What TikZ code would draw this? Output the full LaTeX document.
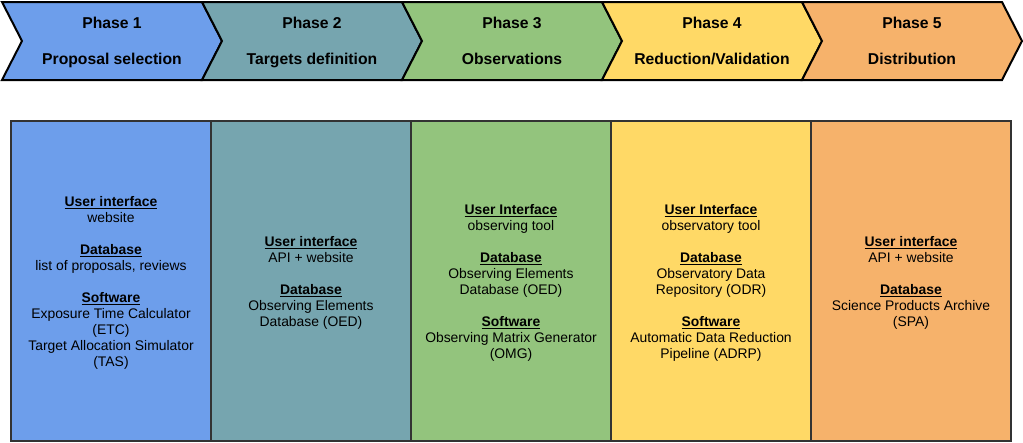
\documentclass[tikz,border=0pt]{standalone}
\usepackage{fontspec}
\setmainfont{Liberation Sans}
\definecolor{cA}{HTML}{6D9EEB}
\definecolor{cB}{HTML}{76A5AF}
\definecolor{cC}{HTML}{93C47D}
\definecolor{cD}{HTML}{FFD966}
\definecolor{cE}{HTML}{F6B26B}
\definecolor{boxline}{HTML}{333333}
\newcommand\hd[1]{\underline{\textbf{#1}}}
\tikzset{
  chev/.style={draw=black, line width=2pt, line join=miter},
  colbox/.style={draw=boxline, line width=2pt},
  ttl/.style={font=\fontsize{15.7}{18}\selectfont\bfseries, anchor=base, inner sep=0pt},
  body/.style={font=\fontsize{13.9}{16}\selectfont, align=center, inner sep=0pt},
}
\begin{document}
\begin{tikzpicture}[x=1pt,y=-1pt]
\useasboundingbox (0,0) rectangle (1023,442);
% chevrons
\path[chev, fill=cA] (2,2) -- (202,2) -- (222,41) -- (202,80) -- (2,80) -- (22,41) -- cycle;
\path[chev, fill=cB] (202,2) -- (402,2) -- (422,41) -- (402,80) -- (202,80) -- (222,41) -- cycle;
\path[chev, fill=cC] (402,2) -- (602,2) -- (622,41) -- (602,80) -- (402,80) -- (422,41) -- cycle;
\path[chev, fill=cD] (602,2) -- (802,2) -- (822,41) -- (802,80) -- (602,80) -- (622,41) -- cycle;
\path[chev, fill=cE] (802,2) -- (1002,2) -- (1022,41) -- (1002,80) -- (802,80) -- (822,41) -- cycle;
\node[ttl] (p1a) at (112,28) {Phase 1};
\node[ttl] (p1b) at (112,64.5) {Proposal selection};
\node[ttl] (p2a) at (312,28) {Phase 2};
\node[ttl] (p2b) at (312,64.5) {Targets definition};
\node[ttl] (p3a) at (512,28) {Phase 3};
\node[ttl] (p3b) at (512,64.5) {Observations};
\node[ttl] (p4a) at (712,28) {Phase 4};
\node[ttl] (p4b) at (712,64.5) {Reduction/Validation};
\node[ttl] (p5a) at (912,28) {Phase 5};
\node[ttl] (p5b) at (912,64.5) {Distribution};
% columns
\path[colbox, fill=cA] (11,121) rectangle (211,441);
\path[colbox, fill=cB] (211,121) rectangle (411,441);
\path[colbox, fill=cC] (411,121) rectangle (611,441);
\path[colbox, fill=cD] (611,121) rectangle (811,441);
\path[colbox, fill=cE] (811,121) rectangle (1011,441);
\node[body] (b1) at (111,283) {\hd{User interface}\\website\\[16pt]\hd{Database}\\list of proposals, reviews\\[16pt]\hd{Software}\\Exposure Time Calculator\\(ETC)\\Target Allocation Simulator\\(TAS)};
\node[body] (b2) at (311,283) {\hd{User interface}\\API + website\\[16pt]\hd{Database}\\Observing Elements\\Database (OED)};
\node[body] (b3) at (511,283) {\hd{User Interface}\\observing tool\\[16pt]\hd{Database}\\Observing Elements\\Database (OED)\\[16pt]\hd{Software}\\Observing Matrix Generator\\(OMG)};
\node[body] (b4) at (711,283) {\hd{User Interface}\\observatory tool\\[16pt]\hd{Database}\\Observatory Data\\Repository (ODR)\\[16pt]\hd{Software}\\Automatic Data Reduction\\Pipeline (ADRP)};
\node[body] (b5) at (911,283) {\hd{User interface}\\API + website\\[16pt]\hd{Database}\\Science Products Archive\\(SPA)};
\end{tikzpicture}
\end{document}
